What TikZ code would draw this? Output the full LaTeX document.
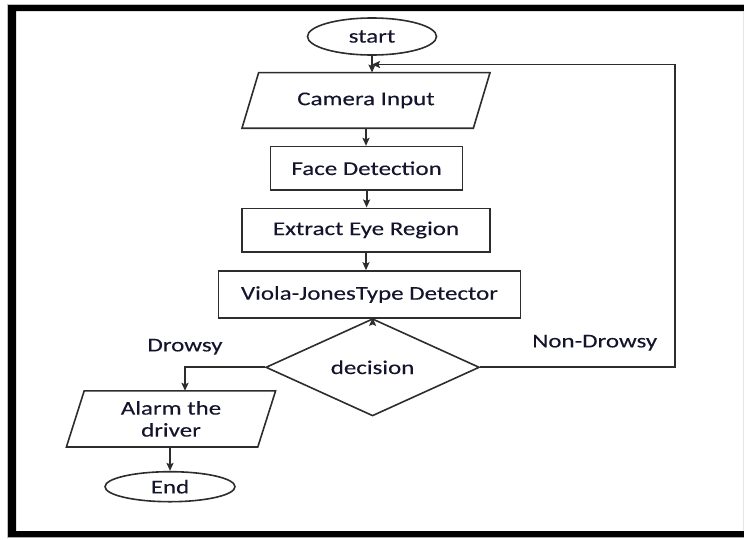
\documentclass[tikz,border=0pt]{standalone}
\usepackage{fontspec}
\setmainfont{Carlito}[FakeStretch=1.28,FakeBold=0.2]
\usetikzlibrary{shapes.geometric,arrows.meta}
\definecolor{ln}{RGB}{45,45,45}
\definecolor{txt}{RGB}{20,20,45}
\begin{document}
\begin{tikzpicture}[x=1pt,y=-1pt,
  every node/.style={font=\fontsize{19.5}{22}\selectfont, text=txt, inner sep=0pt},
  box/.style={draw=ln, line width=1.6pt, rectangle},
  ell/.style={draw=ln, line width=1.6pt, ellipse},
  dia/.style={draw=ln, line width=1.6pt, diamond},
  para/.style={rectangle, align=center},
  paraline/.style={draw=ln, line width=1.6pt, line join=miter},
  conn/.style={draw=ln, line width=1.8pt, -{Stealth[length=8pt,width=7pt,inset=1.5pt]}},
  lbl/.style={}
]
\useasboundingbox (0,0) rectangle (744,539);
% frame
\draw[gray!50, line width=1pt] (7.5,4.5) rectangle (800,537.8);
\fill[black, even odd rule] (8,5) rectangle (800,537) (16,11) rectangle (790,531);
\draw[gray!20, line width=1pt] (743.5,11) -- (743.5,531);

% nodes
\node[ell, minimum width=129pt, minimum height=37pt] (start) at (372,36.5) {start};
\node[para, minimum width=231pt, minimum height=55.3pt] (cam) at (366,100.4) {Camera Input};
\draw[paraline] ([xshift=8.35pt]cam.north west) -- ([xshift=8.35pt]cam.north east)
  -- ([xshift=-8.35pt]cam.south east) -- ([xshift=-8.35pt]cam.south west) -- cycle;
\node[box, minimum width=192pt, minimum height=43.3pt] (face) at (366.6,168.3) {Face Detection};
\node[box, minimum width=248pt, minimum height=43.4pt] (eye) at (366,230) {Extract Eye Region};
\node[box, minimum width=302pt, minimum height=47pt] (vj) at (369.5,294.5) {Viola-JonesType Detector};
\node[dia, minimum width=213.6pt, minimum height=67.7pt] (dec) at (372.6,367.3) {decision};
\node[lbl] (drowsy) at (185,346.7) {Drowsy};
\node[lbl] (nondrowsy) at (594.7,342.7) {Non-Drowsy};
\node[para, minimum width=191pt, minimum height=55.7pt] (alarm) at (171,418.9) {Alarm the\\driver};
\draw[paraline] ([xshift=8.9pt]alarm.north west) -- ([xshift=8.9pt]alarm.north east)
  -- ([xshift=-8.9pt]alarm.south east) -- ([xshift=-8.9pt]alarm.south west) -- cycle;
\node[ell, minimum width=130pt, minimum height=30pt] (end) at (170,486.7) {End};
\coordinate (fb) at (675,64.5);

% connectors
\draw[conn] (start.south) -- (start.south |- cam.north);
\draw[conn] (cam.south) -- (cam.south |- face.north);
\draw[conn] (face.south) -- (face.south |- eye.north);
\draw[conn] (eye.south) -- (eye.south |- vj.north);
\draw[conn] (dec.north |- vj.south) -- (dec.north);
\draw[conn] (dec.west) -| (drowsy.south |- alarm.north);
\draw[conn] (end.north |- alarm.south) -- (end.north);
\draw[conn] (dec.east) -| (fb) -- (fb -| start.south);
\end{tikzpicture}
\end{document}
